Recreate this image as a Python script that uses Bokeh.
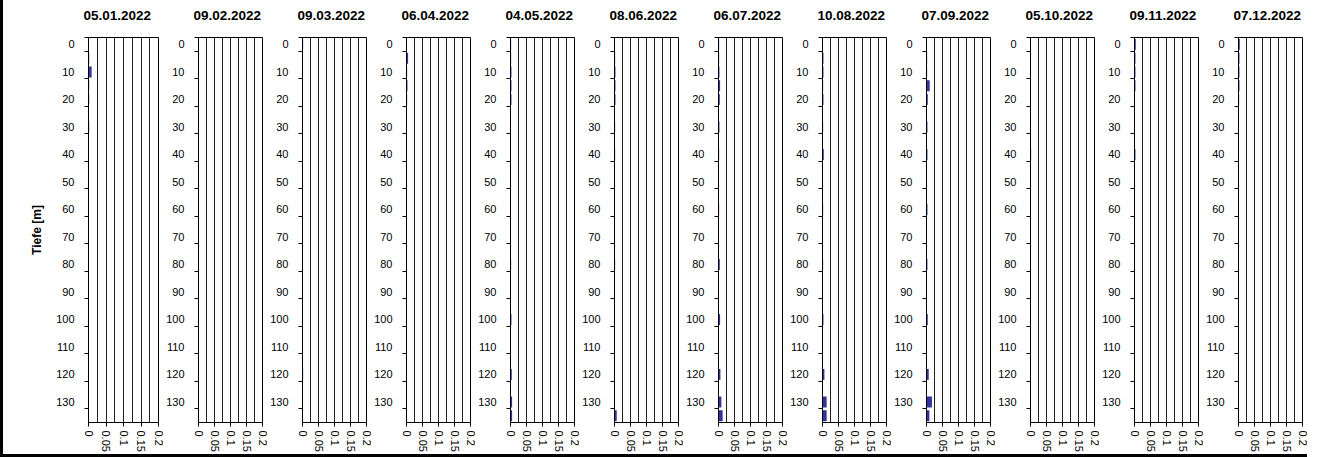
from bokeh.plotting import figure
from bokeh.layouts import row, column
from bokeh.models import Range1d, FixedTicker, NumeralTickFormatter, Spacer, Title
from bokeh.embed import file_html
from bokeh.resources import INLINE

dates = ["05.01.2022", "09.02.2022", "09.03.2022", "06.04.2022", "04.05.2022", "08.06.2022",
         "06.07.2022", "10.08.2022", "07.09.2022", "05.10.2022", "09.11.2022", "07.12.2022"]
depths = [0, 5, 10, 15, 20, 30, 40, 60, 80, 100, 120, 130, 135]
y_labels = [0, 10, 20, 30, 40, 50, 60, 70, 80, 90, 100, 110, 120, 130]
x_ticks = [0, 0.05, 0.1, 0.15, 0.2]
grid_steps = [0.025, 0.05, 0.075, 0.1, 0.125, 0.15, 0.175, 0.2]

v_0501 = [0.0005, 0.002, 0.009, 0.002, 0.002, 0.002, 0.0005, 0.0005, 0.0005, 0.0005, 0.0005, 0.0005, 0.0005]
v_0902 = [0.0005, 0.001, 0.001, 0.001, 0.001, 0.001, 0.001, 0.0005, 0.001, 0.0005, 0.0005, 0.0005, 0.0005]
v_0903 = [0.002, 0.001, 0.001, 0.001, 0.001, 0.001, 0.001, 0.0005, 0.001, 0.001, 0.002, 0.0005, 0.0005]
v_0604 = [0.001, 0.005, 0.002, 0.003, 0.002, 0.001, 0.001, 0.001, 0.001, 0.001, 0.001, 0.001, 0.0005]
v_0405 = [0.002, 0.002, 0.003, 0.003, 0.003, 0.001, 0.0005, 0.001, 0.002, 0.003, 0.004, 0.005, 0.005]
v_0806 = [0.0, 0.002, 0.003, 0.003, 0.003, 0.002, 0.002, 0.001, 0.002, 0.001, 0.001, 0.0005, 0.007]
v_0607 = [0.002, 0.002, 0.003, 0.005, 0.004, 0.003, 0.002, 0.002, 0.004, 0.005, 0.006, 0.009, 0.013]
v_1008 = [0.0005, 0.003, 0.003, 0.002, 0.003, 0.002, 0.004, 0.002, 0.002, 0.003, 0.006, 0.013, 0.013]
v_0709 = [0.0005, 0.002, 0.002, 0.010, 0.004, 0.003, 0.003, 0.003, 0.003, 0.004, 0.007, 0.017, 0.009]
v_0510 = [0.001, 0.001, 0.001, 0.001, 0.0005, 0.0005, 0.002, 0.0005, 0.001, 0.0005, 0.0005, 0.0005, 0.0005]
v_0911 = [0.004, 0.003, 0.003, 0.003, 0.001, 0.001, 0.003, 0.001, 0.001, 0.001, 0.001, 0.001, 0.0005]
v_0712 = [0.004, 0.003, 0.003, 0.003, 0.002, 0.001, 0.001, 0.001, 0.001, 0.001, 0.001, 0.001, 0.001]

series = [v_0501, v_0902, v_0903, v_0604, v_0405, v_0806,
          v_0607, v_1008, v_0709, v_0510, v_0911, v_0712]

FONT = "Liberation Sans"
BAR = "#333399"
FIG_H = 454
STEP = 5
minor = [-STEP / 2] + [d + STEP / 2 for d in y_labels]

figs = []
for i, (d, vals) in enumerate(zip(dates, series)):
    lb = 85 if i == 0 else 29
    p = figure(width=lb + 70 + 5, height=FIG_H,
               x_range=Range1d(0, 0.2), y_range=Range1d(depths[-1] + STEP / 2, -STEP / 2),
               output_backend="svg", toolbar_location=None, title=d,
               min_border_left=lb, min_border_right=5, min_border_top=37, min_border_bottom=28)
    p.hbar(y=depths, left=0, right=vals, height=STEP * 0.8, fill_color=BAR, line_color=None)

    # small blank title as a gap between the date title and the plot area
    p.add_layout(Title(text=" ", text_font_size="10px", standoff=5), "above")

    p.title.align = "left"
    p.title.offset = -5
    p.title.vertical_align = "bottom"
    p.title.standoff = 0
    p.title.text_font = FONT
    p.title.text_font_size = "13.5px"
    p.title.text_font_style = "bold"
    p.title.text_color = "black"

    p.outline_line_color = "black"
    p.outline_line_width = 1
    p.background_fill_color = "white"
    p.border_fill_color = "white"

    p.xgrid.ticker = FixedTicker(ticks=grid_steps)
    p.xgrid.grid_line_color = "#202020"
    p.xgrid.grid_line_width = 1
    p.ygrid.visible = False

    xa = p.xaxis[0]
    xa.ticker = FixedTicker(ticks=x_ticks)
    xa.formatter = NumeralTickFormatter(format="0.[00]")
    xa.major_label_orientation = "vertical"
    xa.major_tick_out = 4
    xa.major_tick_in = 0
    xa.minor_tick_out = 0
    xa.minor_tick_in = 0
    xa.major_label_standoff = 4
    xa.major_label_text_font = FONT
    xa.major_label_text_font_size = "11px"
    xa.major_label_text_color = "black"
    xa.axis_line_color = "black"
    xa.major_tick_line_color = "black"

    ya = p.yaxis[0]
    ya.ticker = FixedTicker(ticks=y_labels, minor_ticks=minor)
    ya.major_tick_out = 0
    ya.major_tick_in = 0
    ya.minor_tick_out = 4
    ya.minor_tick_in = 0
    ya.minor_tick_line_color = "black"
    ya.major_label_standoff = 10
    ya.major_label_text_font = FONT
    ya.major_label_text_font_size = "11px"
    ya.major_label_text_color = "black"
    ya.axis_line_color = "black"
    if i == 0:
        ya.axis_label = "Tiefe [m]"
        ya.axis_label_text_font = FONT
        ya.axis_label_text_font_size = "12px"
        ya.axis_label_text_font_style = "bold"
        ya.axis_label_text_color = "black"
        ya.axis_label_standoff = 9
    figs.append(p)

total_w = 3 + sum(f.width for f in figs)
left_bar = Spacer(width=3, height=FIG_H, styles={"background-color": "black"})
bottom_bar = Spacer(width=total_w, height=3, styles={"background-color": "black"})
layout = column(row(left_bar, *figs, spacing=0), bottom_bar, spacing=0)

open("out.html", "w").write(file_html(layout, INLINE))
